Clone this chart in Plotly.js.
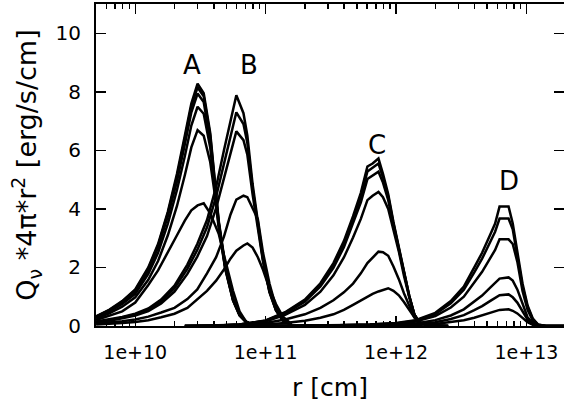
<!DOCTYPE html>
<html>
<head>
<meta charset="utf-8">
<script src="https://cdn.plot.ly/plotly-3.0.1.min.js"></script>
<style>html,body{margin:0;padding:0;background:#fff;}</style>
</head>
<body>
<div id="chart" style="width:564px;height:408px;"></div>
<script>
// ---- data ----
// family A
const rA = [5.01e9,6.31e9,7.94e9,1.0e10,1.259e10,1.496e10,1.778e10,2.089e10,2.399e10,2.692e10,3.006e10,3.350e10,3.758e10,4.074e10,4.365e10,4.898e10,5.623e10,6.310e10,7.079e10,7.943e10,1.0e11];
const A1 = [0.33,0.55,0.85,1.25,2.0,2.8,3.9,5.2,6.5,7.6,8.28,7.95,6.6,4.9,3.6,2.1,0.95,0.4,0.15,0.04,0];
const A2 = [0.32,0.54,0.83,1.22,1.95,2.75,3.85,5.1,6.4,7.5,8.15,7.85,6.5,4.85,3.55,2.05,0.93,0.39,0.15,0.04,0];
const A3 = [0.31,0.52,0.8,1.18,1.9,2.68,3.75,4.95,6.2,7.3,7.94,7.65,6.35,4.8,3.5,2.0,0.9,0.38,0.14,0.04,0];
const A4 = [0.29,0.49,0.75,1.1,1.78,2.5,3.5,4.65,5.8,6.85,7.49,7.25,6.1,4.7,3.45,1.98,0.88,0.37,0.14,0.04,0];
const A5 = [0.25,0.43,0.66,0.98,1.58,2.22,3.1,4.1,5.15,6.1,6.69,6.5,5.6,4.5,3.35,1.95,0.87,0.36,0.13,0.03,0];
const A6 = [0.2,0.35,0.5,0.8,1.4,1.9,2.5,3.1,3.6,3.95,4.12,4.19,3.85,3.5,3.15,2.25,1.2,0.5,0.15,0.04,0];
// family B
const rB = [5.01e9,6.31e9,7.94e9,1.0e10,1.26e10,1.58e10,2.0e10,2.51e10,2.99e10,3.55e10,4.17e10,4.79e10,5.37e10,5.96e10,6.76e10,7.24e10,7.94e10,8.71e10,9.55e10,1.07e11,1.20e11,1.35e11,1.58e11];
const B1 = [0.15,0.22,0.31,0.42,0.6,0.9,1.38,2.1,2.8,3.62,4.75,6.0,7.0,7.88,7.27,6.5,4.85,3.6,2.3,1.2,0.55,0.2,0.03];
const B2 = [0.14,0.2,0.29,0.39,0.56,0.84,1.29,1.95,2.6,3.37,4.42,5.58,6.5,7.3,6.9,6.25,4.7,3.5,2.25,1.18,0.54,0.2,0.03];
const B3 = [0.13,0.18,0.26,0.36,0.51,0.77,1.17,1.78,2.37,3.07,4.03,5.08,5.93,6.65,6.35,5.85,4.5,3.4,2.2,1.15,0.53,0.19,0.03];
const B4 = [0.08,0.11,0.16,0.22,0.32,0.46,0.62,0.92,1.25,1.8,2.35,3.05,3.8,4.32,4.45,4.4,4.05,3.65,2.5,1.45,0.65,0.22,0.03];
const B5 = [0.05,0.07,0.1,0.14,0.2,0.3,0.42,0.62,0.9,1.2,1.55,1.93,2.3,2.57,2.75,2.82,2.68,2.35,1.92,1.28,0.75,0.33,0.06];
// family C
const rC = [2.40e10,3.98e10,6.31e10,1.0e11,1.41e11,2.0e11,2.63e11,3.31e11,3.98e11,4.68e11,5.37e11,6.03e11,6.61e11,7.33e11,7.94e11,8.71e11,9.55e11,1.05e12,1.15e12,1.26e12,1.38e12,1.51e12,1.78e12,2.51e12];
const C1 = [0,0.01,0.05,0.19,0.47,0.9,1.46,2.15,2.9,3.75,4.55,5.45,5.55,5.72,5.2,4.5,3.55,2.7,1.8,1.05,0.4,0.12,0.02,0];
const C2 = [0,0.01,0.05,0.18,0.45,0.87,1.41,2.08,2.81,3.64,4.41,5.28,5.4,5.55,5.08,4.42,3.5,2.67,1.78,1.04,0.4,0.12,0.02,0];
const C3 = [0,0.01,0.05,0.17,0.43,0.83,1.35,1.99,2.69,3.48,4.22,5.02,5.15,5.27,4.9,4.3,3.45,2.64,1.76,1.03,0.4,0.12,0.02,0];
const C4 = [0,0.01,0.04,0.15,0.38,0.72,1.17,1.73,2.34,3.02,3.66,4.3,4.45,4.58,4.4,4.0,3.3,2.55,1.72,1.0,0.39,0.12,0.02,0];
const C5 = [0,0.005,0.03,0.1,0.22,0.4,0.62,0.88,1.15,1.45,1.8,2.15,2.35,2.54,2.52,2.4,2.03,1.6,1.12,0.68,0.3,0.1,0.02,0];
const C6 = [0,0.003,0.015,0.05,0.1,0.18,0.28,0.4,0.55,0.72,0.88,1.0,1.1,1.18,1.24,1.29,1.2,1.05,0.82,0.55,0.3,0.12,0.02,0];
// family D
const rD = [1.0e11,2.51e11,6.31e11,1.0e12,1.41e12,2.0e12,2.63e12,3.31e12,3.98e12,4.57e12,5.25e12,5.75e12,6.22e12,7.29e12,7.85e12,8.51e12,9.33e12,1.02e13,1.12e13,1.23e13,1.41e13,1.95e13];
const D1 = [0,0.01,0.05,0.1,0.2,0.45,0.85,1.35,2.0,2.5,3.1,3.5,4.08,4.08,3.5,2.55,1.45,0.7,0.25,0.05,0,0];
const D2 = [0,0.01,0.05,0.09,0.18,0.41,0.78,1.24,1.83,2.3,2.85,3.22,3.67,3.67,3.3,2.45,1.35,0.65,0.22,0.04,0,0];
const D3 = [0,0.01,0.04,0.08,0.15,0.34,0.63,1.0,1.47,1.85,2.3,2.6,2.96,2.96,2.8,2.2,1.2,0.55,0.18,0.03,0,0];
const D4 = [0,0.005,0.02,0.045,0.09,0.2,0.36,0.57,0.83,1.04,1.3,1.48,1.62,1.66,1.55,1.25,0.75,0.3,0.1,0.02,0,0];
const D5 = [0,0.003,0.015,0.03,0.06,0.13,0.24,0.37,0.54,0.68,0.85,0.96,1.05,1.08,0.98,0.8,0.5,0.22,0.07,0.01,0,0];
const D6 = [0,0.002,0.008,0.015,0.03,0.07,0.13,0.2,0.28,0.36,0.45,0.5,0.55,0.57,0.52,0.43,0.28,0.13,0.04,0.01,0,0];

// axis ticks and labels
const xTickVals = [1e10, 1e11, 1e12, 1e13];
const xTickText = ['1e+10', '1e+11', '1e+12', '1e+13'];
const xMinorVals = [6e9,7e9,8e9,9e9,2e10,3e10,4e10,5e10,6e10,7e10,8e10,9e10,2e11,3e11,4e11,5e11,6e11,7e11,8e11,9e11,2e12,3e12,4e12,5e12,6e12,7e12,8e12,9e12];
const yTickVals = [0, 2, 4, 6, 8, 10];
const familyLabels = ['A', 'B', 'C', 'D'];
const labelX = [2.72e10, 7.45e10, 7.14e11, 7.35e12];
const labelY = [8.9, 8.9, 6.2, 4.95];

const groups = [
  [rA, [A1, A2, A3, A4, A5, A6]],
  [rB, [B1, B2, B3, B4, B5]],
  [rC, [C1, C2, C3, C4, C5, C6]],
  [rD, [D1, D2, D3, D4, D5, D6]]
];

const traces = [];
groups.forEach(([xs, ys]) => {
  ys.forEach(y => {
    traces.push({
      x: xs, y: y, type: 'scatter', mode: 'lines',
      line: {color: 'black', width: 2.5},
      showlegend: false, hoverinfo: 'skip'
    });
  });
});

const annotations = familyLabels.map((t, i) => ({
  x: Math.log10(labelX[i]), y: labelY[i], xref: 'x', yref: 'y',
  text: t, showarrow: false, font: {size: 26, color: 'black', family: 'DejaVu Sans'}
}));

const layout = {
  width: 564, height: 408,
  margin: {l: 96, r: 0, t: 4, b: 82},
  paper_bgcolor: 'white', plot_bgcolor: 'white',
  font: {family: 'DejaVu Sans', color: 'black', size: 19},
  showlegend: false,
  xaxis: {
    type: 'log', range: [9.699, 13.288],
    showline: true, linecolor: 'black', linewidth: 2, mirror: 'ticks',
    ticks: 'inside', ticklen: 10, tickwidth: 1.5, tickcolor: 'black',
    tickmode: 'array', tickvals: xTickVals, ticktext: xTickText,
    minor: {tickmode: 'array', tickvals: xMinorVals, ticks: 'inside', ticklen: 5, tickwidth: 1.5, tickcolor: 'black', showgrid: false},
    showgrid: false, zeroline: false,
    ticklabelstandoff: 8,
    title: {text: 'r [cm]', font: {size: 25}, standoff: 17}
  },
  yaxis: {
    range: [0, 11],
    showline: true, linecolor: 'black', linewidth: 2, mirror: 'ticks',
    ticks: 'inside', ticklen: 10, tickwidth: 1.5, tickcolor: 'black',
    tickmode: 'array', tickvals: yTickVals,
    tickfont: {size: 20},
    showgrid: false, zeroline: false,
    ticklabelstandoff: 9,
    title: {text: 'Q<sub>ν</sub> *4π*r<sup>2</sup> [erg/s/cm]', font: {size: 27}, standoff: 11}
  },
  annotations: annotations
};

Plotly.newPlot('chart', traces, layout, {staticPlot: true, displayModeBar: false});
</script>
</body>
</html>
